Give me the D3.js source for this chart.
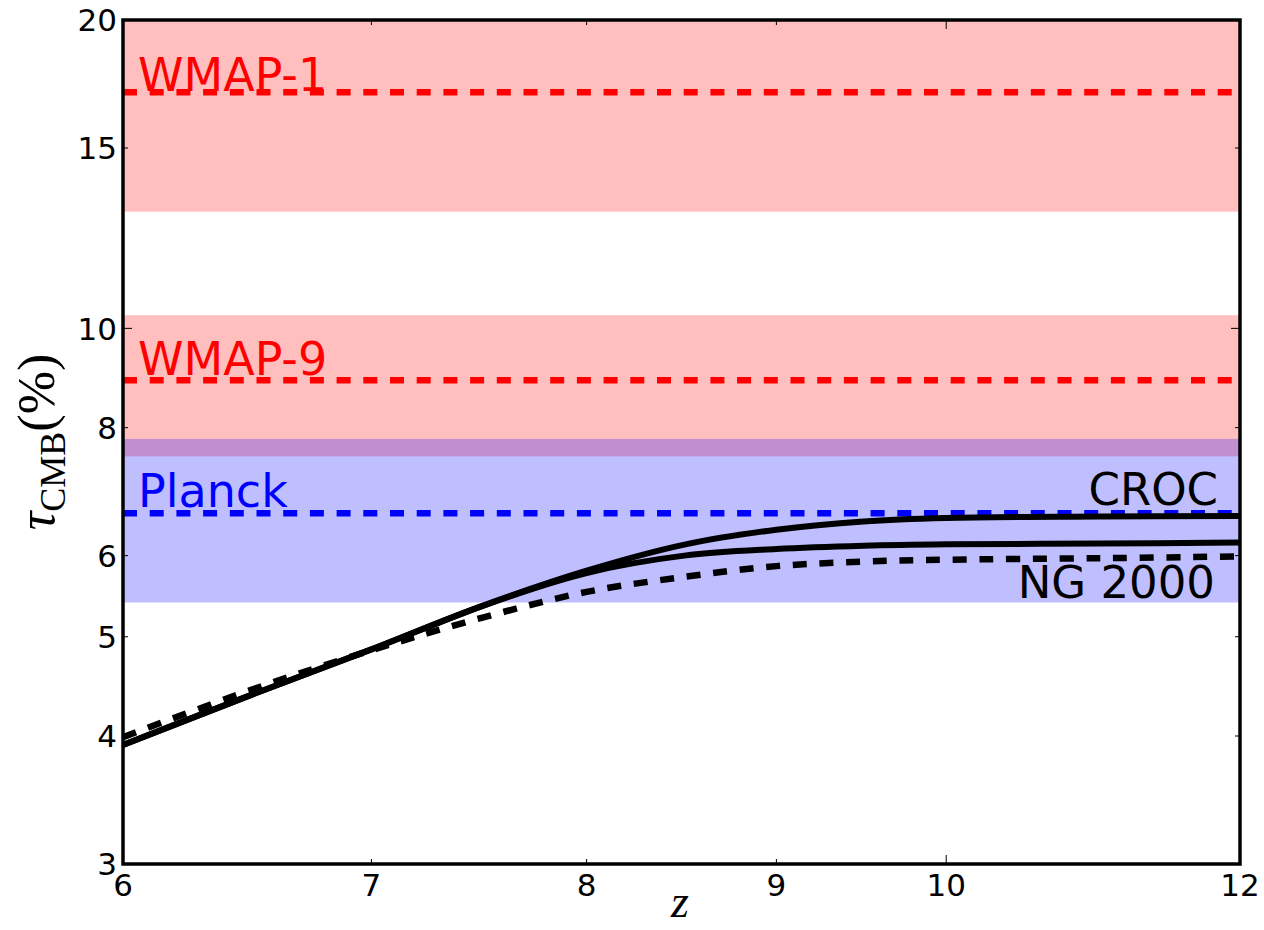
<!DOCTYPE html>
<html>
<head>
<meta charset="utf-8">
<script src="https://cdn.jsdelivr.net/npm/d3@7"></script>
<style>
  html, body { margin: 0; padding: 0; background: #fff; }
  svg { display: block; }
</style>
</head>
<body>
<svg id="chart" width="1264" height="930"></svg>
<script>
// ---------- data ----------
const surveyNames  = ["WMAP-1", "WMAP-9", "Planck"];
const surveyTau    = [17.0, 8.9, 6.6];      // central tau (%)
const surveyErr    = [4.0, 1.4, 1.2];       // 1-sigma (%)
const surveyColors = ["#ff0000", "#ff0000", "#0000ff"];

const zGrid  = [6, 6.5, 7, 7.5, 8, 8.5, 9, 9.5, 10, 11, 12];
const crocA  = [3.92, 4.39, 4.86, 5.36, 5.80, 6.15, 6.36, 6.48, 6.53, 6.55, 6.56];
const crocB  = [3.92, 4.39, 4.86, 5.36, 5.77, 6.00, 6.09, 6.135, 6.155, 6.165, 6.18];
const ng2000 = [3.99, 4.44, 4.85, 5.22, 5.53, 5.72, 5.86, 5.92, 5.945, 5.965, 5.99];

const xTicks = [6, 7, 8, 9, 10, 12];
const xMajor = [10];
const yTicks = [3, 4, 5, 6, 8, 10, 15, 20];
const yMajor = [10];

// ---------- layout ----------
const L = 123, R = 1240, T = 20, B = 864;
const svg = d3.select("#chart");
const x = d3.scaleLog().domain([6, 12]).range([L, R]);
const y = d3.scaleLog().domain([3, 20]).range([B, T]);

svg.append("defs").append("clipPath").attr("id", "clip")
  .append("rect").attr("x", L).attr("y", T).attr("width", R - L).attr("height", B - T);

const plot = svg.append("g").attr("clip-path", "url(#clip)");

// bands
plot.selectAll("rect.band").data(surveyNames).join("rect")
  .attr("class", "band")
  .attr("x", L).attr("width", R - L)
  .attr("y", (d, i) => y(surveyTau[i] + surveyErr[i]))
  .attr("height", (d, i) => y(surveyTau[i] - surveyErr[i]) - y(surveyTau[i] + surveyErr[i]))
  .attr("fill", (d, i) => surveyColors[i])
  .attr("fill-opacity", 0.25);

// central dashed lines
plot.selectAll("line.center").data(surveyNames).join("line")
  .attr("class", "center")
  .attr("x1", x(6)).attr("x2", x(12))
  .attr("y1", (d, i) => y(surveyTau[i])).attr("y2", (d, i) => y(surveyTau[i]))
  .attr("stroke", (d, i) => surveyColors[i])
  .attr("stroke-width", 6.5)
  .attr("stroke-dasharray", "14,12.7");

// curves
const line = d3.line()
  .x(d => x(d[0])).y(d => y(d[1]))
  .curve(d3.curveCatmullRom.alpha(0.5));

const mk = arr => zGrid.map((z, i) => [z, arr[i]]);

plot.append("path").datum(mk(ng2000))
  .attr("d", line).attr("fill", "none").attr("stroke", "#000")
  .attr("stroke-width", 6.5).attr("stroke-dasharray", "14,12.7");
plot.append("path").datum(mk(crocB))
  .attr("d", line).attr("fill", "none").attr("stroke", "#000").attr("stroke-width", 6);
plot.append("path").datum(mk(crocA))
  .attr("d", line).attr("fill", "none").attr("stroke", "#000").attr("stroke-width", 6);

// survey labels
const font = "'DejaVu Sans', 'Bitstream Vera Sans', sans-serif";
svg.selectAll("text.survey").data(surveyNames).join("text")
  .attr("class", "survey")
  .attr("x", L + 15)
  .attr("y", (d, i) => y(surveyTau[i]) - [1, 5, 6][i])
  .attr("fill", (d, i) => surveyColors[i])
  .attr("font-family", font)
  .attr("font-size", 46)
  .text(d => d);

svg.append("text").attr("x", 1218).attr("y", 505)
  .attr("text-anchor", "end").attr("font-family", font).attr("font-size", 45)
  .attr("fill", "#000").text("CROC");
svg.append("text").attr("x", 1215).attr("y", 598)
  .attr("text-anchor", "end").attr("font-family", font).attr("font-size", 45)
  .attr("fill", "#000").text("NG 2000");

// ---------- axes ----------
const axes = svg.append("g");
// ticks (inward, on all four sides)
xTicks.forEach(t => {
  const len = xMajor.includes(t) ? 9 : 5;
  axes.append("line").attr("x1", x(t)).attr("x2", x(t)).attr("y1", B).attr("y2", B - len)
    .attr("stroke", "#000").attr("stroke-width", 1);
  axes.append("line").attr("x1", x(t)).attr("x2", x(t)).attr("y1", T).attr("y2", T + len)
    .attr("stroke", "#000").attr("stroke-width", 1);
});
yTicks.forEach(t => {
  const len = yMajor.includes(t) ? 9 : 5;
  axes.append("line").attr("y1", y(t)).attr("y2", y(t)).attr("x1", L).attr("x2", L + len)
    .attr("stroke", "#000").attr("stroke-width", 1);
  axes.append("line").attr("y1", y(t)).attr("y2", y(t)).attr("x1", R).attr("x2", R - len)
    .attr("stroke", "#000").attr("stroke-width", 1);
});

// frame
axes.append("rect").attr("x", L).attr("y", T).attr("width", R - L).attr("height", B - T)
  .attr("fill", "none").attr("stroke", "#000").attr("stroke-width", 3.5);

// tick labels
axes.selectAll("text.xt").data(xTicks).join("text")
  .attr("class", "xt")
  .attr("x", d => x(d)).attr("y", 896)
  .attr("text-anchor", "middle").attr("font-family", font).attr("font-size", 31)
  .text(d => d);
axes.selectAll("text.yt").data(yTicks).join("text")
  .attr("class", "yt")
  .attr("x", L - 6).attr("y", d => y(d)).attr("dy", "0.36em")
  .attr("text-anchor", "end").attr("font-family", font).attr("font-size", 31)
  .text(d => d);

// axis titles
const serif = "'Liberation Serif', 'DejaVu Serif', serif";
svg.append("text")
  .attr("x", 680).attr("y", 917)
  .attr("text-anchor", "middle").attr("font-family", serif)
  .attr("font-style", "italic").attr("font-size", 46)
  .text("z");

const yl = svg.append("text")
  .attr("transform", "translate(54,442) rotate(-90)")
  .attr("text-anchor", "middle").attr("font-family", serif).attr("font-size", 52);
yl.append("tspan").attr("font-style", "italic").text("τ");
yl.append("tspan").attr("font-size", 36).attr("dy", 11).text("CMB");
yl.append("tspan").attr("dy", -11).text("(%)");
</script>
</body>
</html>
